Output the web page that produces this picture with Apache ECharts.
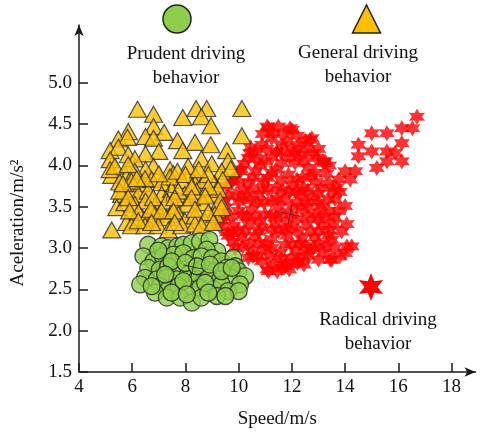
<!DOCTYPE html>
<html><head><meta charset="utf-8">
<script src="https://cdn.jsdelivr.net/npm/echarts@6/dist/echarts.min.js"></script>
<style>html,body{margin:0;padding:0;background:#fff}#c{width:481px;height:434px}</style>
</head><body><div id="c"></div>
<script>
const speedTicks = [4, 6, 8, 10, 12, 14, 16, 18];
const accelTicks = [1.5, 2.0, 2.5, 3.0, 3.5, 4.0, 4.5, 5.0];
const xName = 'Speed/m/s';
const yName = 'Aceleration/m/s\u00B2';
const groupNames = ['Prudent driving\nbehavior', 'General driving\nbehavior', 'Radical driving\nbehavior'];

const generalPts = [[6.2,4.68],[6.8,4.62],[7.9,4.58],[8.4,4.69],[8.8,4.69],[8.6,4.59],[8.96,4.48],[10.12,4.69],[10.12,4.36],[6.8,4.47],[7.2,4.40],[5.85,4.41],[5.48,4.32],[5.82,4.34],[6.5,4.35],[6.8,4.33],[7.7,4.30],[8.36,4.28],[8.95,4.25],[7.0,4.17],[6.5,4.14],[7.9,4.18],[9.55,4.18],[5.17,4.18],[5.48,4.22],[5.85,4.13],[6.1,4.08],[5.17,4.07],[8.6,4.08],[9.6,4.05],[8.99,4.02],[6.8,3.99],[6.5,3.95],[7.42,3.95],[8.1,3.99],[7.55,3.90],[5.23,3.88],[5.17,3.95],[5.72,3.90],[6.1,3.93],[8.4,3.87],[9.36,3.93],[9.7,3.96],[5.53,3.80],[5.97,3.71],[6.35,3.78],[6.73,3.83],[7.1,3.79],[7.86,3.82],[8.36,3.78],[8.7,3.82],[9.1,3.78],[9.4,3.83],[5.6,3.65],[6.23,3.65],[6.6,3.69],[7.11,3.65],[7.48,3.71],[7.98,3.65],[8.42,3.69],[8.99,3.65],[9.23,3.71],[5.42,3.49],[5.72,3.55],[6.1,3.53],[6.5,3.57],[6.86,3.51],[7.3,3.57],[7.61,3.51],[8.05,3.53],[8.67,3.55],[9.17,3.47],[9.3,3.57],[5.79,3.31],[6.23,3.43],[6.48,3.35],[6.86,3.41],[7.29,3.37],[7.73,3.41],[7.98,3.33],[8.36,3.39],[8.73,3.33],[9.11,3.41],[5.23,3.22],[5.97,3.27],[6.48,3.27],[6.98,3.27],[7.36,3.22],[7.86,3.27],[8.36,3.29],[5.53,3.69],[5.97,3.81],[7.42,3.86],[8.86,3.89],[5.35,3.99],[5.85,4.01],[7.7,3.93],[6.48,3.84],[7.0,3.90],[8.0,3.89],[8.5,3.95],[5.65,3.78],[6.17,3.84],[7.73,3.69],[8.23,3.74],[8.86,3.74],[5.85,3.61],[6.79,3.61],[7.6,3.61],[8.23,3.61],[8.74,3.63],[5.9,3.45],[6.7,3.47],[7.1,3.45],[7.55,3.45],[8.36,3.47],[8.86,3.43],[6.23,3.33],[6.73,3.31],[7.6,3.31],[8.6,3.27],[9.05,3.31],[9.36,3.49]];

const prudentPts = [[6.6,3.04],[7.1,3.02],[7.35,3.0],[7.7,3.02],[7.92,3.04],[8.24,3.06],[8.55,3.08],[8.9,3.1],[9.2,2.96],[8.8,2.98],[6.42,2.9],[6.8,2.84],[7.15,2.9],[7.55,2.92],[7.92,2.94],[8.3,2.88],[8.6,2.9],[9.0,2.88],[9.35,2.84],[9.8,2.88],[9.87,2.78],[6.6,2.76],[7.04,2.74],[7.35,2.78],[7.8,2.72],[8.2,2.72],[8.67,2.76],[9.12,2.72],[9.55,2.76],[9.99,2.72],[6.48,2.64],[6.92,2.62],[7.3,2.64],[7.68,2.62],[8.1,2.68],[8.43,2.62],[8.86,2.64],[9.3,2.62],[9.74,2.64],[10.24,2.66],[6.3,2.56],[7.04,2.54],[7.36,2.5],[7.74,2.54],[8.18,2.5],[8.55,2.52],[9.05,2.5],[9.36,2.56],[10.05,2.56],[9.6,2.48],[10.0,2.48],[6.86,2.46],[7.3,2.4],[7.8,2.4],[8.24,2.34],[8.6,2.4],[9.18,2.42],[9.5,2.42],[6.98,2.97],[7.48,2.84],[8.0,2.82],[8.43,2.78],[8.92,2.8],[9.36,2.72],[7.24,2.68],[7.92,2.6],[8.74,2.58],[6.73,2.54],[7.48,2.46],[8.05,2.44],[8.86,2.46],[9.74,2.76]];

const radicalPts = [[11.12,4.45],[11.49,4.47],[12.0,4.43],[12.75,4.33],[11.24,4.33],[11.81,4.29],[10.62,4.17],[12.25,4.25],[10.87,4.25],[11.43,4.17],[12.35,4.13],[12.9,4.09],[13.19,4.03],[10.37,4.09],[11.0,4.05],[11.62,4.03],[12.12,4.03],[12.62,3.97],[10.05,3.93],[10.62,3.93],[11.24,3.91],[11.87,3.89],[12.87,3.91],[9.74,3.81],[10.37,3.79],[10.93,3.81],[11.43,3.73],[12.0,3.77],[12.44,3.73],[13.12,3.73],[13.56,3.69],[9.61,3.63],[10.18,3.61],[10.74,3.65],[11.24,3.57],[11.74,3.59],[12.31,3.65],[12.75,3.61],[13.37,3.59],[9.49,3.49],[9.99,3.45],[10.49,3.47],[10.99,3.41],[11.62,3.41],[12.37,3.47],[12.87,3.41],[13.37,3.45],[9.36,3.33],[9.8,3.27],[10.37,3.29],[10.87,3.25],[11.37,3.29],[12.0,3.25],[12.56,3.29],[13.12,3.27],[13.56,3.29],[9.61,3.15],[10.12,3.13],[10.62,3.15],[11.24,3.11],[11.81,3.15],[12.37,3.11],[12.87,3.13],[13.37,3.15],[9.86,3.0],[10.49,2.96],[10.99,2.98],[11.56,2.94],[12.12,2.96],[12.69,2.98],[13.19,2.94],[10.87,2.84],[11.31,2.8],[11.81,2.82],[11.12,2.72],[11.62,2.76],[12.25,2.84],[10.37,2.88],[11.07,2.74],[11.74,2.78],[12.2,2.82],[10.54,2.9],[13.44,2.86],[14.07,3.02],[9.8,3.07],[9.56,3.19],[9.3,3.26],[9.41,3.38],[9.8,3.83],[10.43,4.15],[12.68,4.31],[12.8,4.15],[13.17,4.05],[16.7,4.59],[16.13,4.45],[16.53,4.45],[15.57,4.39],[15.0,4.39],[16.13,4.27],[14.5,4.25],[15.0,4.17],[15.57,4.17],[15.88,4.15],[14.5,4.11],[15.57,4.05],[16.13,4.05],[15.19,3.97],[13.25,4.05],[14.38,3.93],[14.0,3.93],[14.19,3.83],[13.75,3.83],[13.69,3.73],[14.0,3.51],[14.06,3.29],[13.87,3.2],[14.25,3.02],[14.0,2.94],[13.5,2.86],[13.25,3.38],[13.62,3.59],[13.5,3.1],[13.25,3.02],[10.2,3.7],[10.7,3.55],[11.1,3.7],[11.5,3.5],[11.9,3.68],[12.2,3.55],[12.6,3.5],[13.0,3.55],[10.3,3.38],[10.8,3.33],[11.2,3.4],[11.8,3.3],[12.2,3.35],[12.7,3.2],[13.0,3.05],[10.0,3.22],[10.4,3.05],[11.0,3.05],[11.5,3.2],[12.0,3.05],[12.5,3.02],[11.6,2.87],[12.4,2.9],[10.8,4.0],[11.6,4.15],[12.1,4.15],[11.4,3.95],[12.4,3.85],[12.9,3.8],[13.3,3.9],[10.1,3.95],[11.07,4.47],[11.93,4.45],
[10.9,4.38],[11.3,4.4],[11.7,4.38],[12.2,4.36],[12.5,4.3],[10.45,4.22],[11.05,4.2],[11.6,4.24],[12.0,4.2],[12.55,4.2],[13.0,4.2],[10.2,4.02],[10.7,4.08],[11.25,4.1],[11.9,4.1],[12.45,4.05],[13.4,4.0],[9.55,3.75],[10.0,3.8],[10.55,3.85],[11.1,3.85],[11.6,3.82],[12.2,3.83],[12.7,3.87],[13.4,3.78],[9.9,3.65],[10.45,3.7],[10.9,3.72],[11.65,3.7],[12.15,3.68],[12.6,3.7],[13.0,3.66],[13.8,3.68],[9.45,3.56],[10.0,3.56],[10.45,3.58],[10.95,3.55],[11.45,3.6],[12.0,3.5],[12.5,3.56],[13.1,3.5],[13.75,3.45],[9.7,3.38],[10.15,3.4],[10.6,3.38],[11.4,3.38],[11.95,3.4],[12.6,3.38],[13.0,3.35],[13.6,3.38],[9.75,3.18],[10.25,3.2],[10.75,3.2],[11.25,3.22],[11.75,3.22],[12.25,3.2],[13.0,3.2],[13.4,3.22],[10.15,3.02],[10.75,3.06],[11.25,3.0],[11.75,3.04],[12.3,3.05],[12.8,3.0],[13.6,3.0],[10.7,2.9],[11.2,2.9],[12.0,2.88],[12.6,2.9],[13.0,2.86],[13.8,2.9],[11.45,2.72],[11.9,2.74],[12.45,2.8]];

const centroids = [[8.29,2.77],[7.35,3.68],[11.93,3.41]];

const FONT = '"Liberation Serif", "Times New Roman", serif';
const TXT = '#111';
const AX = '#1a1a1a';
const starPath = 'path://M10,0 L12.75,5.24 L18.66,5 L15.5,10 L18.66,15 L12.75,14.76 L10,20 L7.25,14.76 L1.34,15 L4.5,10 L1.34,5 L7.25,5.24 Z';
const crossPath = 'path://M0,9.6 L20,9.6 L20,10.4 L0,10.4 Z M9.6,0 L10.4,0 L10.4,20 L9.6,20 Z';

function starPoints(cx, cy, R, r, n) {
  const pts = [];
  for (let k = 0; k < 2 * n; k++) {
    const a = -Math.PI / 2 + k * Math.PI / n;
    const rad = k % 2 === 0 ? R : r;
    pts.push([cx + rad * Math.cos(a), cy + rad * Math.sin(a)]);
  }
  return pts;
}

const chart = echarts.init(document.getElementById('c'), null, {renderer: 'canvas'});
const labelStyle = {fontFamily: FONT, fontSize: 19, color: TXT};
chart.setOption({
  animation: false,
  backgroundColor: '#fff',
  grid: {left: 79, right: 5.5, top: 25, bottom: 61},
  xAxis: {
    type: 'value', min: 4, max: 18.9, interval: 2,
    axisLine: {show: true, onZero: false, symbol: ['none', 'arrow'], symbolSize: [7, 11], lineStyle: {color: AX, width: 1.5}},
    axisTick: {show: true, inside: true, length: 9, customValues: speedTicks, lineStyle: {color: AX, width: 1.5}},
    axisLabel: Object.assign({margin: 6, customValues: speedTicks}, labelStyle),
    splitLine: {show: false},
    name: xName, nameLocation: 'middle', nameGap: 38,
    nameTextStyle: labelStyle
  },
  yAxis: {
    type: 'value', min: 1.5, max: 5.7, interval: 0.5,
    axisLine: {show: true, onZero: false, symbol: ['none', 'arrow'], symbolSize: [7, 11], lineStyle: {color: AX, width: 1.5}},
    axisTick: {show: true, inside: true, length: 9, customValues: accelTicks, lineStyle: {color: AX, width: 1.5}},
    axisLabel: Object.assign({margin: 7, customValues: accelTicks, formatter: v => v > 5.01 ? '' : Number(v).toFixed(1)}, labelStyle),
    splitLine: {show: false}
  },
  series: [
    {type: 'scatter', name: 'Radical', data: radicalPts, symbol: starPath, symbolSize: 16,
     itemStyle: {color: '#ff0000'}, z: 2},
    {type: 'scatter', name: 'General', data: generalPts, symbol: 'triangle', symbolSize: [18, 16],
     itemStyle: {color: '#ffbf00', borderColor: '#2a2a2a', borderWidth: 1.2}, z: 3},
    {type: 'scatter', name: 'Prudent', data: prudentPts, symbol: 'circle', symbolSize: 17,
     itemStyle: {color: '#8fce4c', borderColor: '#222', borderWidth: 1.3}, z: 4},
    {type: 'scatter', name: 'Centroid', data: centroids, symbol: crossPath, symbolSize: 20, symbolRotate: -12,
     itemStyle: {color: '#111'}, z: 5}
  ],
  graphic: [
    {type: 'text', x: 18, y: 223, rotation: Math.PI / 2,
     style: {text: yName, font: '19px ' + FONT, fill: TXT, align: 'center', verticalAlign: 'middle'}},
    {type: 'circle', shape: {cx: 177, cy: 19, r: 14}, style: {fill: '#8fce4c', stroke: '#222', lineWidth: 1.5}},
    {type: 'polygon', shape: {points: [[366.5, 5], [352.5, 33], [380.5, 33]]}, style: {fill: '#ffbf00', stroke: '#222', lineWidth: 1.5}},
    {type: 'polygon', shape: {points: starPoints(371, 287, 14, 6.5, 6)}, style: {fill: '#ff0000'}},
    {type: 'text', x: 186, y: 66, style: {text: groupNames[0], font: '19px ' + FONT, fill: TXT, align: 'center', verticalAlign: 'middle', lineHeight: 24}},
    {type: 'text', x: 358, y: 65, style: {text: groupNames[1], font: '19px ' + FONT, fill: TXT, align: 'center', verticalAlign: 'middle', lineHeight: 24}},
    {type: 'text', x: 378, y: 332, style: {text: groupNames[2], font: '19px ' + FONT, fill: TXT, align: 'center', verticalAlign: 'middle', lineHeight: 24}}
  ]
});
</script>
</body></html>
